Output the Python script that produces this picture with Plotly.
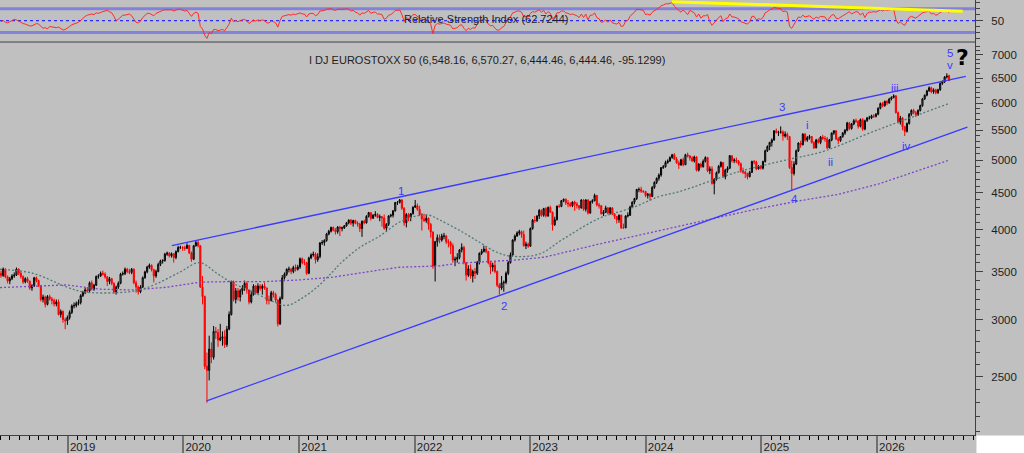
import math
import pandas as pd
import plotly.graph_objects as go

# weekly bars, first week starts Monday 2018-06-04
first_week = "2018-06-04"

opens = [
    # 2018
    3480, 3455, 3527, 3440, 3396, 3420, 3450, 3460, 3527, 3480, 3445, 3385, 3420, 3393, 3320, 3345,
    3430, 3400, 3345, 3200, 3225, 3150, 3230, 3205, 3190, 3155, 3175, 3050, 3080, 3000, 2990,
    # 2019
    3020, 3070, 3135, 3140, 3160, 3170, 3240, 3270, 3300, 3290, 3375, 3310, 3350, 3445, 3450, 3480,
    3470, 3440, 3390, 3420, 3370, 3280, 3330, 3370, 3470, 3475, 3525, 3500, 3490, 3525, 3375, 3330,
    3280, 3330, 3430, 3495, 3550, 3570, 3520, 3450, 3500, 3580, 3620, 3625, 3700, 3710, 3680, 3705,
    3660, 3730, 3780, 3780,
    # 2020
    3775, 3770, 3805, 3715, 3640, 3800, 3840, 3800, 3330, 3230, 2585, 2550, 2730, 2660, 2890, 2880,
    2810, 2830, 2840, 2770, 2910, 3050, 3385, 3200, 3290, 3225, 3290, 3320, 3370, 3300, 3175, 3250,
    3340, 3270, 3340, 3315, 3340, 3320, 3190, 3190, 3270, 3250, 3195, 2960, 3210, 3430, 3470, 3525,
    3525, 3500, 3545, 3525,
    # 2021
    3550, 3645, 3600, 3600, 3480, 3655, 3690, 3700, 3635, 3670, 3835, 3840, 3865, 3945, 3980, 4030,
    3995, 3975, 4035, 4015, 4025, 4050, 4090, 4125, 4085, 4120, 4085, 4075, 4015, 4110, 4090, 4175,
    4225, 4150, 4190, 4200, 4160, 4170, 4155, 4020, 4070, 4180, 4190, 4250, 4365, 4365, 4400, 4285,
    4090, 4200, 4160, 4210,
    # 2022
    4300, 4320, 4270, 4200, 4140, 4120, 4150, 4070, 3970, 3560, 3850, 3900, 3870, 3920, 3920, 3850,
    3840, 3800, 3630, 3640, 3660, 3750, 3780, 3600, 3460, 3530, 3450, 3500, 3480, 3600, 3710, 3730,
    3760, 3730, 3600, 3550, 3570, 3500, 3350, 3320, 3375, 3380, 3480, 3600, 3690, 3870, 3920, 3960,
    3975, 3940, 3800, 3820,
    # 2023
    3795, 4015, 4125, 4120, 4180, 4255, 4190, 4280, 4180, 4295, 4230, 4065, 4130, 4315, 4310, 4390,
    4410, 4360, 4345, 4320, 4370, 4345, 4320, 4290, 4400, 4270, 4400, 4220, 4375, 4390, 4465, 4330,
    4320, 4210, 4230, 4290, 4220, 4290, 4205, 4175, 4130, 4190, 4025, 4025, 4180, 4190, 4300, 4370,
    4420, 4550, 4550, 4525,
    # 2024
    4520, 4465, 4480, 4450, 4580, 4655, 4715, 4765, 4880, 4895, 4960, 4985, 5040, 5085, 5015, 4955,
    4920, 5005, 4925, 5085, 5065, 5035, 4985, 5050, 4840, 4935, 4895, 4980, 5040, 4830, 4860, 4640,
    4700, 4800, 4900, 4960, 4740, 4840, 4870, 5070, 4990, 5000, 4980, 4940, 4830, 4810, 4790, 4740,
    4805, 4975, 4970, 4860, 4900,
    # 2025
    4870, 4975, 5150, 5220, 5290, 5330, 5490, 5460, 5465, 5470, 5400, 5430, 5390, 4880, 4790, 4935,
    5150, 5280, 5250, 5430, 5330, 5370, 5390, 5290, 5200, 5330, 5290, 5380, 5360, 5350, 5200, 5330,
    5450, 5490, 5350, 5320, 5390, 5450, 5500, 5630, 5530, 5610, 5670, 5660, 5570, 5690, 5520, 5670,
    5720, 5720, 5760, 5750,
    # 2026
    5790, 5900, 5990, 5950, 6030, 6000, 6080, 6110, 6140, 5820, 5650, 5720, 5560, 5480, 5620, 5790,
    5860, 5820, 5780, 5860, 5950, 6080, 6150, 6240, 6300, 6220, 6260, 6200, 6260, 6390, 6420, 6520,
    6548.16,
]

highs = [
    # 2018
    3510, 3545, 3535, 3455, 3440, 3470, 3490, 3545, 3535, 3500, 3455, 3435, 3440, 3400, 3360, 3440,
    3445, 3410, 3350, 3250, 3240, 3245, 3250, 3225, 3210, 3200, 3200, 3100, 3090, 3020, 3040,
    # 2019
    3090, 3150, 3170, 3180, 3200, 3255, 3290, 3320, 3330, 3390, 3400, 3365, 3455, 3470, 3500, 3510,
    3490, 3450, 3440, 3430, 3380, 3345, 3390, 3485, 3500, 3545, 3540, 3530, 3540, 3535, 3400, 3345,
    3350, 3445, 3510, 3565, 3590, 3580, 3530, 3520, 3600, 3635, 3640, 3715, 3730, 3725, 3720, 3710,
    3745, 3800, 3800, 3795,
    # 2020
    3800, 3830, 3810, 3730, 3810, 3860, 3867, 3810, 3450, 3240, 2700, 2850, 2790, 2940, 2930, 2910,
    2960, 2890, 2900, 2940, 3080, 3400, 3400, 3320, 3320, 3310, 3350, 3400, 3390, 3300, 3290, 3360,
    3350, 3370, 3360, 3360, 3380, 3325, 3240, 3290, 3290, 3270, 3200, 3230, 3460, 3490, 3535, 3555,
    3540, 3565, 3580, 3575,
    # 2021
    3660, 3660, 3640, 3610, 3670, 3710, 3730, 3720, 3710, 3845, 3870, 3880, 3960, 4000, 4040, 4040,
    4020, 4045, 4050, 4040, 4060, 4100, 4135, 4140, 4130, 4130, 4110, 4090, 4120, 4130, 4190, 4235,
    4230, 4205, 4245, 4220, 4200, 4180, 4200, 4085, 4190, 4210, 4260, 4370, 4385, 4415, 4410, 4300,
    4220, 4220, 4220, 4310,
    # 2022
    4400, 4350, 4320, 4220, 4210, 4200, 4160, 4090, 3980, 3860, 3940, 3940, 3950, 3960, 3935, 3880,
    3860, 3830, 3670, 3710, 3760, 3830, 3800, 3610, 3570, 3580, 3520, 3540, 3620, 3720, 3760, 3800,
    3790, 3740, 3620, 3600, 3620, 3510, 3370, 3450, 3400, 3500, 3620, 3720, 3880, 3940, 3980, 4000,
    3990, 3990, 3850, 3840,
    # 2023
    4030, 4140, 4180, 4190, 4275, 4270, 4290, 4300, 4310, 4320, 4240, 4170, 4320, 4340, 4400, 4420,
    4420, 4400, 4370, 4380, 4390, 4370, 4330, 4410, 4410, 4410, 4410, 4390, 4410, 4490, 4470, 4360,
    4330, 4260, 4320, 4300, 4300, 4300, 4220, 4180, 4200, 4200, 4080, 4190, 4230, 4320, 4380, 4430,
    4560, 4580, 4590, 4540,
    # 2024
    4530, 4500, 4500, 4600, 4670, 4730, 4790, 4890, 4920, 4990, 5010, 5060, 5100, 5110, 5050, 4990,
    5020, 5040, 5100, 5120, 5080, 5060, 5070, 5060, 4950, 4960, 5010, 5060, 5050, 4900, 4900, 4720,
    4820, 4920, 4980, 4970, 4860, 4900, 5080, 5070, 5030, 5040, 5000, 4960, 4880, 4830, 4800, 4830,
    4990, 5000, 4990, 4920, 4920,
    # 2025
    4990, 5170, 5240, 5300, 5360, 5500, 5530, 5490, 5568, 5500, 5480, 5460, 5400, 4990, 4980, 5170,
    5290, 5320, 5450, 5450, 5400, 5420, 5400, 5310, 5350, 5360, 5400, 5420, 5400, 5380, 5350, 5460,
    5500, 5500, 5380, 5400, 5470, 5520, 5650, 5650, 5630, 5700, 5710, 5680, 5710, 5720, 5690, 5740,
    5760, 5780, 5790, 5810,
    # 2026
    5920, 6010, 6020, 6050, 6060, 6100, 6130, 6170, 6150, 5840, 5760, 5740, 5580, 5640, 5810, 5880,
    5890, 5850, 5880, 5970, 6100, 6170, 6260, 6330, 6320, 6290, 6280, 6280, 6410, 6450, 6540, 6600,
    6570.27,
]

lows = [
    # 2018
    3430, 3440, 3425, 3370, 3360, 3405, 3430, 3450, 3460, 3420, 3365, 3370, 3375, 3300, 3290, 3330,
    3380, 3330, 3180, 3170, 3120, 3140, 3190, 3150, 3130, 3130, 3040, 3020, 2970, 2910, 2950,
    # 2019
    3000, 3055, 3110, 3120, 3140, 3150, 3225, 3255, 3270, 3270, 3295, 3290, 3340, 3420, 3440, 3455,
    3420, 3340, 3360, 3350, 3260, 3250, 3310, 3360, 3455, 3460, 3480, 3470, 3470, 3360, 3270, 3250,
    3265, 3320, 3420, 3480, 3530, 3500, 3380, 3430, 3490, 3560, 3590, 3610, 3680, 3660, 3660, 3600,
    3640, 3720, 3760, 3740,
    # 2020
    3740, 3760, 3700, 3610, 3630, 3790, 3780, 3320, 3150, 2560, 2300, 2470, 2610, 2640, 2820, 2750,
    2800, 2760, 2740, 2750, 2900, 3040, 3180, 3160, 3190, 3180, 3250, 3290, 3260, 3150, 3160, 3240,
    3250, 3260, 3290, 3250, 3300, 3150, 3150, 3180, 3220, 3170, 2935, 2950, 3200, 3410, 3450, 3490,
    3470, 3480, 3500, 3510,
    # 2021
    3530, 3580, 3570, 3460, 3470, 3640, 3670, 3590, 3610, 3650, 3810, 3800, 3850, 3930, 3965, 3980,
    3940, 3950, 3920, 3980, 4010, 4040, 4070, 4060, 4040, 4070, 4040, 3970, 3910, 4070, 4080, 4160,
    4120, 4140, 4170, 4150, 4110, 4040, 4000, 3980, 4050, 4160, 4160, 4240, 4330, 4350, 4260, 4050,
    4030, 4110, 4110, 4200,
    # 2022
    4290, 4250, 4180, 3990, 4100, 4090, 4000, 3900, 3530, 3390, 3790, 3830, 3850, 3880, 3820, 3780,
    3700, 3600, 3560, 3600, 3640, 3720, 3580, 3400, 3440, 3420, 3380, 3420, 3460, 3580, 3690, 3720,
    3710, 3580, 3470, 3500, 3480, 3330, 3250, 3300, 3280, 3360, 3460, 3590, 3680, 3850, 3910, 3930,
    3900, 3790, 3760, 3775,
    # 2023
    3790, 4000, 4090, 4100, 4140, 4170, 4170, 4160, 4170, 4220, 3990, 4050, 4120, 4290, 4300, 4370,
    4330, 4300, 4300, 4300, 4250, 4280, 4260, 4280, 4250, 4240, 4200, 4210, 4350, 4380, 4310, 4280,
    4200, 4180, 4220, 4200, 4200, 4190, 4140, 4080, 4090, 4010, 4010, 4020, 4160, 4180, 4290, 4340,
    4400, 4510, 4500, 4500,
    # 2024
    4440, 4420, 4390, 4440, 4560, 4630, 4680, 4740, 4860, 4880, 4940, 4970, 5020, 5000, 4940, 4860,
    4910, 4900, 4920, 5040, 4990, 4970, 4960, 4820, 4820, 4870, 4880, 4960, 4810, 4780, 4620, 4480,
    4680, 4790, 4880, 4720, 4700, 4800, 4860, 4960, 4950, 4950, 4910, 4800, 4780, 4720, 4700, 4730,
    4800, 4930, 4840, 4850, 4850,
    # 2025
    4850, 4960, 5130, 5160, 5220, 5320, 5440, 5400, 5440, 5320, 5370, 5330, 4860, 4540, 4760, 4920,
    5130, 5200, 5240, 5300, 5300, 5340, 5270, 5180, 5190, 5270, 5260, 5330, 5300, 5180, 5190, 5310,
    5420, 5330, 5260, 5300, 5370, 5420, 5480, 5500, 5510, 5590, 5630, 5530, 5550, 5490, 5500, 5650,
    5690, 5700, 5720, 5730,
    # 2026
    5770, 5880, 5920, 5930, 5960, 5990, 6050, 6090, 5800, 5620, 5600, 5500, 5400, 5460, 5600, 5760,
    5790, 5740, 5760, 5840, 5930, 6060, 6130, 6220, 6190, 6180, 6170, 6180, 6240, 6360, 6400, 6490,
    6444.46,
]

closes = [
    # 2018
    3455, 3527, 3440, 3396, 3420, 3450, 3460, 3527, 3480, 3445, 3385, 3420, 3393, 3320, 3345, 3430,
    3400, 3345, 3200, 3225, 3150, 3230, 3205, 3190, 3155, 3175, 3050, 3080, 3000, 2990, 3020,
    # 2019
    3070, 3135, 3140, 3160, 3170, 3240, 3270, 3300, 3290, 3375, 3310, 3350, 3445, 3450, 3480, 3470,
    3440, 3390, 3420, 3370, 3280, 3330, 3370, 3470, 3475, 3525, 3500, 3490, 3525, 3375, 3330, 3280,
    3330, 3430, 3495, 3550, 3570, 3520, 3450, 3500, 3580, 3620, 3625, 3700, 3710, 3680, 3705, 3660,
    3730, 3780, 3780, 3775,
    # 2020
    3770, 3805, 3715, 3640, 3800, 3840, 3800, 3330, 3230, 2585, 2550, 2730, 2660, 2890, 2880, 2810,
    2830, 2840, 2770, 2910, 3050, 3385, 3200, 3290, 3225, 3290, 3320, 3370, 3300, 3175, 3250, 3340,
    3270, 3340, 3315, 3340, 3320, 3190, 3190, 3270, 3250, 3195, 2960, 3210, 3430, 3470, 3525, 3525,
    3500, 3545, 3525, 3550,
    # 2021
    3645, 3600, 3600, 3480, 3655, 3690, 3700, 3635, 3670, 3835, 3840, 3865, 3945, 3980, 4030, 3995,
    3975, 4035, 4015, 4025, 4050, 4090, 4125, 4085, 4120, 4085, 4075, 4015, 4110, 4090, 4175, 4225,
    4150, 4190, 4200, 4160, 4170, 4155, 4020, 4070, 4180, 4190, 4250, 4365, 4365, 4400, 4285, 4090,
    4200, 4160, 4210, 4300,
    # 2022
    4320, 4270, 4200, 4140, 4120, 4150, 4070, 3970, 3560, 3850, 3900, 3870, 3920, 3920, 3850, 3840,
    3800, 3630, 3640, 3660, 3750, 3780, 3600, 3460, 3530, 3450, 3500, 3480, 3600, 3710, 3730, 3760,
    3730, 3600, 3550, 3570, 3500, 3350, 3320, 3375, 3380, 3480, 3600, 3690, 3870, 3920, 3960, 3975,
    3940, 3800, 3820, 3795,
    # 2023
    4015, 4125, 4120, 4180, 4255, 4190, 4280, 4180, 4295, 4230, 4065, 4130, 4315, 4310, 4390, 4410,
    4360, 4345, 4320, 4370, 4345, 4320, 4290, 4400, 4270, 4400, 4220, 4375, 4390, 4465, 4330, 4320,
    4210, 4230, 4290, 4220, 4290, 4205, 4175, 4130, 4190, 4025, 4025, 4180, 4190, 4300, 4370, 4420,
    4550, 4550, 4525, 4520,
    # 2024
    4465, 4480, 4450, 4580, 4655, 4715, 4765, 4880, 4895, 4960, 4985, 5040, 5085, 5015, 4955, 4920,
    5005, 4925, 5085, 5065, 5035, 4985, 5050, 4840, 4935, 4895, 4980, 5040, 4830, 4860, 4640, 4700,
    4800, 4900, 4960, 4740, 4840, 4870, 5070, 4990, 5000, 4980, 4940, 4830, 4810, 4790, 4740, 4805,
    4975, 4970, 4860, 4900, 4870,
    # 2025
    4975, 5150, 5220, 5290, 5330, 5490, 5460, 5465, 5470, 5400, 5430, 5390, 4880, 4790, 4935, 5150,
    5280, 5250, 5430, 5330, 5370, 5390, 5290, 5200, 5330, 5290, 5380, 5360, 5350, 5200, 5330, 5450,
    5490, 5350, 5320, 5390, 5450, 5500, 5630, 5530, 5610, 5670, 5660, 5570, 5690, 5520, 5670, 5720,
    5720, 5760, 5750, 5790,
    # 2026
    5900, 5990, 5950, 6030, 6000, 6080, 6110, 6140, 5820, 5650, 5720, 5560, 5480, 5620, 5790, 5860,
    5820, 5780, 5860, 5950, 6080, 6150, 6240, 6300, 6220, 6260, 6200, 6260, 6390, 6420, 6520, 6539.59,
    6444.46,
]

# 14 week RSI
rsi = [
    # 2018
    48, 50, 47, 46, 48, 50, 52, 51, 49, 46, 45, 44, 42, 41, 41, 43, 45, 44, 40, 37, 38, 36, 40, 39,
    38, 38, 39, 36, 34, 35, 37,
    # 2019
    40, 43, 44, 46, 47, 50, 54, 57, 59, 60, 61, 60, 63, 62, 64, 65, 66, 67, 65, 63, 57, 50, 52, 56,
    59, 59, 60, 61, 58, 52, 47, 46, 49, 55, 59, 62, 62, 60, 58, 62, 64, 65, 67, 68, 68, 67, 68, 66,
    68, 69, 69, 68,
    # 2020
    66, 67, 62, 57, 62, 64, 62, 40, 36, 25, 20, 30, 28, 35, 35, 33, 34, 35, 33, 38, 44, 54, 48, 50,
    48, 50, 51, 52, 49, 45, 48, 51, 49, 51, 50, 51, 50, 46, 46, 49, 48, 46, 39, 50, 57, 58, 60, 60,
    59, 61, 60, 61,
    # 2021
    63, 61, 61, 56, 61, 62, 62, 58, 60, 66, 66, 67, 69, 69, 70, 68, 67, 69, 69, 68, 69, 70, 69, 66,
    67, 64, 63, 59, 63, 62, 65, 67, 62, 64, 64, 61, 61, 60, 52, 54, 59, 60, 63, 67, 67, 68, 60, 49,
    55, 53, 56, 60,
    # 2022
    60, 57, 54, 51, 51, 53, 49, 44, 28, 42, 45, 44, 45, 46, 44, 43, 42, 36, 37, 38, 42, 43, 37, 33,
    37, 35, 38, 37, 44, 50, 51, 53, 50, 44, 41, 42, 37, 34, 34, 38, 40, 47, 53, 56, 63, 64, 66, 66,
    64, 56, 57, 56,
    # 2023
    62, 65, 64, 66, 68, 64, 67, 61, 65, 62, 53, 56, 63, 63, 66, 66, 63, 62, 60, 61, 60, 58, 55, 61,
    55, 61, 51, 59, 59, 63, 55, 53, 47, 48, 51, 47, 51, 46, 45, 44, 47, 40, 41, 49, 50, 57, 61, 64,
    69, 69, 68, 67,
    # 2024
    60, 61, 59, 64, 67, 69, 71, 75, 76, 78, 78, 79, 80, 74, 70, 67, 64, 68, 64, 60, 67, 65, 63, 56,
    61, 54, 58, 58, 60, 48, 42, 46, 51, 55, 58, 48, 53, 54, 61, 56, 56, 55, 53, 48, 47, 46, 44, 48,
    57, 57, 51, 53, 52,
    # 2025
    55, 63, 65, 68, 69, 72, 71, 71, 70, 65, 66, 64, 40, 37, 44, 51, 56, 55, 59, 56, 57, 58, 55, 52,
    56, 54, 57, 56, 56, 50, 55, 59, 60, 54, 53, 56, 58, 60, 62, 65, 61, 63, 65, 64, 59, 63, 55, 62,
    64, 64, 65, 64,
    # 2026
    66, 68, 66, 68, 67, 68, 69, 69, 52, 45, 48, 44, 42, 49, 55, 57, 55, 54, 57, 60, 63, 64, 65, 66,
    61, 62, 59, 60, 64, 65, 67, 67, 62.7244,
]

# moving averages (read at a few points along each dotted curve)
ma_short_dates = ["2018-06-01", "2018-09-13", "2018-12-29", "2019-02-18", "2019-06-05", "2019-08-16",
                  "2019-10-09", "2019-12-20", "2020-02-22", "2020-04-16", "2020-06-06", "2020-08-08",
                  "2020-10-10", "2020-11-23", "2021-01-04", "2021-02-27", "2021-04-18", "2021-05-10",
                  "2021-07-12", "2021-09-13", "2021-11-15", "2022-01-07", "2022-02-17", "2022-03-20",
                  "2022-05-22", "2022-07-24", "2022-09-16", "2022-11-05", "2023-01-30", "2023-04-13",
                  "2023-08-08", "2023-11-19", "2024-02-13", "2024-04-16", "2024-10-22", "2025-03-31",
                  "2025-07-03", "2025-09-15", "2025-12-08", "2026-03-14", "2026-08-19"]
ma_short = [3525, 3480, 3330, 3280, 3270, 3300, 3365, 3490, 3600, 3480, 3370, 3280, 3180, 3140, 3200,
            3330, 3500, 3585, 3780, 3920, 4100, 4180, 4190, 4130, 3995, 3846, 3725, 3675, 3700, 3876,
            4150, 4290, 4448, 4519, 4818, 5013, 5120, 5260, 5450, 5654, 5997]

ma_long_dates = ["2018-06-01", "2018-09-13", "2018-12-29", "2019-04-13", "2019-07-25", "2019-11-10",
                 "2020-02-22", "2020-06-06", "2020-09-20", "2021-01-04", "2021-04-18", "2021-09-13",
                 "2021-11-15", "2022-03-20", "2022-05-22", "2022-11-20", "2023-02-16", "2023-08-08",
                 "2024-01-11", "2024-06-18", "2024-12-14", "2025-04-29", "2025-09-03", "2026-01-07",
                 "2026-08-13"]
ma_long = [3324, 3342, 3353, 3307, 3299, 3328, 3382, 3389, 3389, 3407, 3437, 3517, 3548, 3563, 3594,
           3632, 3664, 3822, 3960, 4101, 4272, 4387, 4481, 4632, 4991]

# trend channel
upper_dates = ["2019-11-26", "2026-10-09"]
upper_prices = [3803, 6535]
lower_dates = ["2020-03-15", "2026-10-14"]
lower_prices = [2313, 5556]

# falling RSI trendline
rsi_line_dates = ["2024-03-24", "2026-09-29"]
rsi_line_values = [81.7, 65.8]

# wave counts
wave_text = ["1", "2", "3", "4", "i", "ii", "iii", "iv", "5", "v"]
wave_dates = ["2021-11-20", "2022-10-10", "2025-03-08", "2025-04-16", "2025-05-28", "2025-08-08",
              "2026-02-27", "2026-04-06", "2026-08-19", "2026-08-19"]
wave_prices = [4534, 3135, 5921, 4415, 5595, 4975, 6292, 5231, 7040, 6770]
question_date = "2026-09-30"
question_price = 6933

year_ticks = ["2019-01-01", "2020-01-01", "2021-01-01", "2022-01-01", "2023-01-01",
              "2024-01-01", "2025-01-01", "2026-01-01"]
year_labels = ["2019", "2020", "2021", "2022", "2023", "2024", "2025", "2026"]
price_ticks = [2500, 3000, 3500, 4000, 4500, 5000, 5500, 6000, 6500, 7000]
price_minor = list(range(2100, 7300, 100))

main_title = "I DJ EUROSTOXX 50 (6,548.16, 6,570.27, 6,444.46, 6,444.46, -95.1299)"
rsi_title = "Relative Strength Index (62.7244)"

assert len(opens) == len(highs) == len(lows) == len(closes) == len(rsi), \
    (len(opens), len(highs), len(lows), len(closes), len(rsi))

dates = pd.date_range(first_week, periods=len(closes), freq="7D")

BG = "#c0c0c0"
BLUE = "#3a3aff"
FONT = "Liberation Sans, Arial, sans-serif"
split = 0.9034

fig = go.Figure()

fig.add_trace(go.Scatter(x=ma_long_dates, y=ma_long, mode="lines",
                         line=dict(color="#7e44c8", width=1.3, dash="2px,2px"), yaxis="y"))
fig.add_trace(go.Scatter(x=ma_short_dates, y=ma_short, mode="lines", line_shape="spline",
                         line=dict(color="#4e7a78", width=1.3, dash="2px,2px"), yaxis="y"))

fig.add_trace(go.Candlestick(
    x=dates, open=opens, high=highs, low=lows, close=closes,
    increasing=dict(line=dict(color="#000000", width=1), fillcolor="#7c7c7c"),
    decreasing=dict(line=dict(color="#ff0000", width=1), fillcolor="#ff0000"),
    whiskerwidth=0, yaxis="y"))

fig.add_trace(go.Scatter(x=upper_dates, y=upper_prices, mode="lines",
                         line=dict(color=BLUE, width=1.3), yaxis="y"))
fig.add_trace(go.Scatter(x=lower_dates, y=lower_prices, mode="lines",
                         line=dict(color=BLUE, width=1.3), yaxis="y"))

fig.add_trace(go.Scatter(x=dates, y=rsi, mode="lines",
                         line=dict(color="#ff2a2a", width=1), yaxis="y2"))
fig.add_trace(go.Scatter(x=rsi_line_dates, y=rsi_line_values, mode="lines",
                         line=dict(color="#ffff00", width=3), yaxis="y2"))

annotations = []
for t, d, p in zip(wave_text, wave_dates, wave_prices):
    annotations.append(dict(x=d, y=math.log10(p), xref="x", yref="y", text=t, showarrow=False,
                            font=dict(family=FONT, size=11.5, color=BLUE)))
annotations.append(dict(x=question_date, y=math.log10(question_price), xref="x", yref="y",
                        text="<b>?</b>", showarrow=False,
                        font=dict(family="DejaVu Sans, Arial", size=22, color="#000000")))
annotations.append(dict(x=0.4995, y=(435 - 52) / 435, xref="paper", yref="paper", text=main_title,
                        showarrow=False, font=dict(family=FONT, size=11, color="#1e1e1e")))
annotations.append(dict(x=0.4985, y=(435 - 11) / 435, xref="paper", yref="paper", text=rsi_title,
                        showarrow=False, font=dict(family=FONT, size=11, color="#1e1e1e")))

shapes = [
    dict(type="line", xref="paper", yref="y2", x0=0, x1=1, y0=70, y1=70,
         line=dict(color="#8282dc", width=3), layer="below"),
    dict(type="line", xref="paper", yref="y2", x0=0, x1=1, y0=30, y1=30,
         line=dict(color="#8282dc", width=3), layer="below"),
    dict(type="line", xref="paper", yref="y2", x0=0, x1=1, y0=50, y1=50,
         line=dict(color="#2828ff", width=1.2, dash="dot"), layer="below"),
    dict(type="line", xref="paper", yref="paper", x0=0, x1=1, y0=split, y1=split,
         line=dict(color="#404040", width=1)),
    dict(type="rect", xref="paper", yref="paper", x0=1.0015, x1=1.2, y0=-0.2, y1=-0.001,
         line=dict(width=0), fillcolor="#ffffff"),
]

fig.update_layout(
    width=1024, height=453,
    margin=dict(l=0, r=49, t=0, b=18, autoexpand=False),
    paper_bgcolor=BG, plot_bgcolor=BG,
    showlegend=False,
    font=dict(family=FONT, size=11.5, color="#1e1e1e"),
    annotations=annotations,
    shapes=shapes,
    xaxis=dict(
        type="date", range=["2018-06-01", "2026-11-07"], domain=[0, 1], anchor="y",
        rangeslider=dict(visible=False), showgrid=False, zeroline=False,
        showline=True, linecolor="#404040", linewidth=1,
        tickmode="array", tickvals=year_ticks, ticktext=year_labels,
        ticks="outside", ticklen=18, tickwidth=2, tickcolor="#707070",
        ticklabelshift=15, ticklabelstandoff=-17,
        tickfont=dict(size=11.5, color="#1e1e1e"),
        minor=dict(ticks="outside", ticklen=4, tickcolor="#000000", tickwidth=1,
                   tickmode="linear", tick0="2018-01-01", dtick="M1", showgrid=False),
    ),
    yaxis=dict(
        type="log", side="right", domain=[0, split - 0.0008], anchor="x",
        range=[math.log10(2074), math.log10(7286)],
        showgrid=False, zeroline=False, showline=True, linecolor="#404040", linewidth=1,
        tickmode="array", tickvals=price_ticks, ticktext=[str(v) for v in price_ticks],
        ticks="outside", ticklen=7, tickcolor="#404040", ticklabelstandoff=6,
        tickfont=dict(size=11.5, color="#1e1e1e"),
        minor=dict(ticks="outside", ticklen=4, tickcolor="#404040", tickmode="array",
                   tickvals=price_minor, showgrid=False),
    ),
    yaxis2=dict(
        side="right", domain=[split + 0.0008, 1], anchor="x", range=[14.5, 84.5],
        showgrid=False, zeroline=False, showline=True, linecolor="#404040", linewidth=1,
        tickmode="array", tickvals=[50], ticktext=["50"],
        ticks="outside", ticklen=7, tickcolor="#404040", ticklabelstandoff=6,
        tickfont=dict(size=11.5, color="#1e1e1e"),
        minor=dict(ticks="outside", ticklen=4, tickcolor="#404040", tickmode="array",
                   tickvals=[20, 30, 40, 60, 70, 80], showgrid=False),
    ),
)

# the page body has a default 8px margin; drop it so the figure fills the window
fig.write_html("out.html", config={"displayModeBar": False},
               post_script="document.body.style.margin='0';")
